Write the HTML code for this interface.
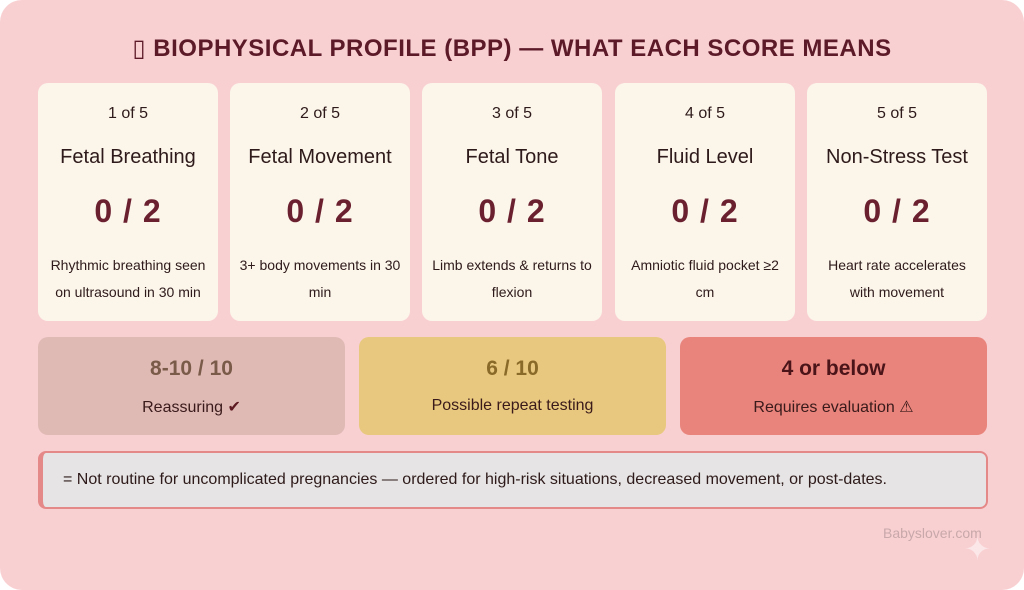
<!DOCTYPE html>
<html><head><style>
*{margin:0;padding:0;box-sizing:border-box}
body{width:1024px;height:590px;background:#fff;font-family:"Liberation Sans","DejaVu Sans",sans-serif;overflow:hidden}
.panel{position:absolute;left:0;top:0;width:1024px;height:590px;background:#f9d0d2;border-radius:22px}
.title{position:absolute;top:34px;left:0;width:1024px;text-align:center;font-size:24px;font-weight:bold;color:#5c1a28;letter-spacing:0.5px}
.card{position:absolute;top:83px;width:180px;height:238px;background:#fbf5ea;border-radius:10px;text-align:center;color:#2e1a1a}
.n{position:absolute;top:22px;width:100%;font-size:16px}
.h{position:absolute;top:63px;width:100%;font-size:20px}
.s{position:absolute;top:110px;width:100%;font-size:32px;font-weight:bold;color:#6b2030;letter-spacing:1px}
.d{position:absolute;top:169px;left:8px;right:8px;font-size:14px;line-height:27px}
.box{position:absolute;top:337px;width:307px;height:98px;border-radius:10px;text-align:center}
.box .a{position:absolute;top:20px;width:100%;font-size:21px;font-weight:bold}
.box .b{position:absolute;top:60px;width:100%;font-size:16px;color:#3a1a1a}
.note{position:absolute;left:38px;top:451px;width:950px;height:58px;background:#e6e4e4;border:2px solid #e58888;border-left:5px solid #e58888;border-radius:8px;font-size:16px;color:#2e1a1a;padding:18px 0 0 20px}
.wm{position:absolute;left:883px;top:525px;font-size:14px;color:#c8a8aa}
.sp{position:absolute;left:964px;top:530px;font-size:32px;color:#fbe6e8}
</style></head><body>
<div class="panel"></div>
<div class="title">▯ BIOPHYSICAL PROFILE (BPP) — WHAT EACH SCORE MEANS</div>
<div class="card" style="left:38px"><div class="n">1 of 5</div><div class="h">Fetal Breathing</div><div class="s">0 / 2</div><div class="d">Rhythmic breathing seen on ultrasound in 30 min</div></div>
<div class="card" style="left:230px"><div class="n">2 of 5</div><div class="h">Fetal Movement</div><div class="s">0 / 2</div><div class="d">3+ body movements in 30 min</div></div>
<div class="card" style="left:422px"><div class="n">3 of 5</div><div class="h">Fetal Tone</div><div class="s">0 / 2</div><div class="d">Limb extends &amp; returns to flexion</div></div>
<div class="card" style="left:615px"><div class="n">4 of 5</div><div class="h">Fluid Level</div><div class="s">0 / 2</div><div class="d">Amniotic fluid pocket ≥2 cm</div></div>
<div class="card" style="left:807px"><div class="n">5 of 5</div><div class="h">Non-Stress Test</div><div class="s">0 / 2</div><div class="d">Heart rate accelerates with movement</div></div>
<div class="box" style="left:38px;background:#dfbab5"><div class="a" style="color:#7a5a48">8-10 / 10</div><div class="b">Reassuring <span style="color:#5c1a20">✔</span></div></div>
<div class="box" style="left:359px;background:#e8c87e"><div class="a" style="color:#8a6a28">6 / 10</div><div class="b">Possible repeat testing</div></div>
<div class="box" style="left:680px;background:#e8847c"><div class="a" style="color:#4a1418">4 or below</div><div class="b">Requires evaluation ⚠</div></div>
<div class="note">= Not routine for uncomplicated pregnancies — ordered for high-risk situations, decreased movement, or post-dates.</div>
<div class="wm">Babyslover.com</div>
<div class="sp">✦</div>
</body></html>
